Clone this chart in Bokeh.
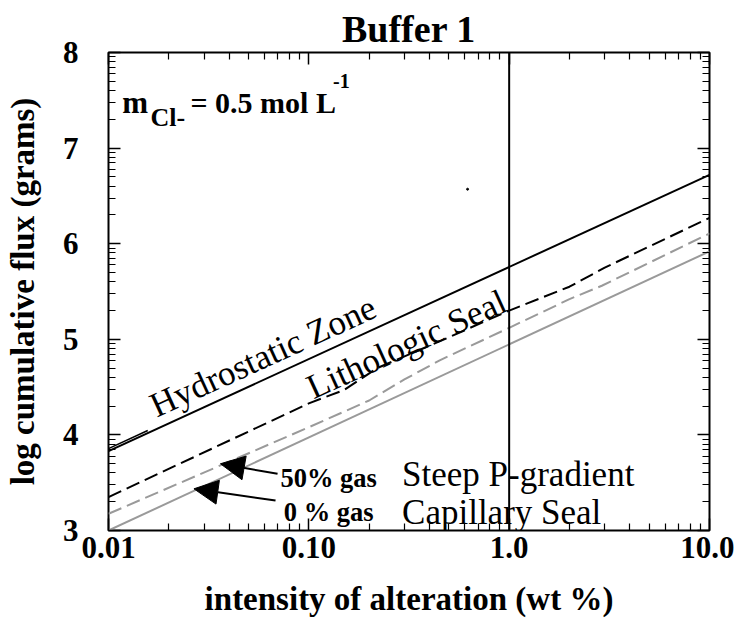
from bokeh.plotting import figure
from bokeh.models import (Range1d, FixedTicker, LogAxis, LinearAxis, Span, Label,
                          Arrow, NormalHead, Title)
from bokeh.embed import file_html
from bokeh.resources import INLINE
import math

# ---- data ----
alteration_ends = [0.01, 10.0]
hydrostatic_y = [3.83, 6.72]          # solid black
capillary_y = [3.0, 5.92]             # solid grey
hydro_double_x = [0.01, 0.0157]
hydro_double_y = [3.857, 4.046]

litho_x = [0.01, 0.1, 0.15, 0.22, 0.44, 1.0, 2.0, 3.0, 10.0]      # dashed black
litho_y = [3.35, 4.33, 4.47, 4.70, 4.97, 5.30, 5.55, 5.75, 6.27]

steep_x = [0.01, 0.1, 0.2, 0.3, 0.45, 1.0, 2.0, 2.9, 10.0]         # dashed grey
steep_y = [3.175, 4.08, 4.36, 4.58, 4.78, 5.12, 5.42, 5.56, 6.107]

speck_x = [0.62]
speck_y = [6.57]

x_major = [0.01, 0.1, 1, 10]
x_labels = {0.01: "0.01", 0.1: "0.10", 1: "1.0", 10: "10.0"}
x_minor = [k * 10.0 ** e for e in (-2, -1, 0) for k in range(2, 10)]
y_major = [3, 4, 5, 6, 7, 8]
y_minor = [n + math.log10(k) for n in range(3, 8) for k in range(2, 10)]

FONT = "Liberation Serif"
GREY = "#9a9a9a"

p = figure(width=734, height=630, x_axis_type="log",
           x_range=Range1d(0.01, 10), y_range=Range1d(3, 8),
           output_backend="svg", toolbar_location=None, title=None,
           min_border_left=108, min_border_right=25,
           min_border_top=52, min_border_bottom=100)
p.grid.visible = False
p.background_fill_color = "white"
p.border_fill_color = "white"
p.outline_line_color = "black"
p.outline_line_width = 2
p.outline_line_alpha = 1


def style_axis(ax, major, minor, labels=True):
    ax.ticker = FixedTicker(ticks=major, minor_ticks=minor)
    ax.axis_line_color = None
    ax.major_tick_in = 12
    ax.major_tick_out = 0
    ax.minor_tick_in = 7
    ax.minor_tick_out = 0
    ax.major_tick_line_color = "black"
    ax.minor_tick_line_color = "black"
    ax.major_tick_line_width = 1.5
    ax.minor_tick_line_width = 1.2
    if labels:
        ax.major_label_text_font = FONT
        ax.major_label_text_font_style = "bold"
        ax.major_label_text_font_size = "31px"
        ax.major_label_text_color = "black"
        ax.axis_label_text_font = FONT
        ax.axis_label_text_font_style = "bold"
        ax.axis_label_text_font_size = "33px"
        ax.axis_label_text_color = "black"
    else:
        ax.major_label_text_font_size = "2px"
        ax.major_label_text_alpha = 0
        ax.major_label_standoff = 0


xa = p.xaxis[0]
style_axis(xa, x_major, x_minor)
xa.major_label_overrides = x_labels
xa.major_label_standoff = 6
xa.axis_label = "intensity of alteration (wt %)"
xa.axis_label_standoff = 20

ya = p.yaxis[0]
style_axis(ya, y_major, y_minor)
ya.major_label_standoff = 30
ya.axis_label = "log cumulative flux (grams)"
ya.axis_label_standoff = 19

# top axis first so it sits against the frame, title above it
top = LogAxis()
style_axis(top, x_major, x_minor, labels=False)
p.add_layout(top, "above")
right = LinearAxis()
style_axis(right, y_major, y_minor, labels=False)
p.add_layout(right, "right")

title = Title(text="Buffer 1", align="center", text_font=FONT, text_font_size="38px",
              text_font_style="bold", text_color="black", standoff=6)
p.add_layout(title, "above")

# ---- curves ----
p.line(alteration_ends, hydrostatic_y, line_color="black", line_width=2)
p.line(hydro_double_x, hydro_double_y, line_color="black", line_width=1.5)
p.line(litho_x, litho_y, line_color="black", line_width=2, line_dash="14 6")
p.line(steep_x, steep_y, line_color=GREY, line_width=2, line_dash="14 6")
p.line(alteration_ends, capillary_y, line_color=GREY, line_width=2)
p.scatter(speck_x, speck_y, size=2, color="black")

p.add_layout(Span(location=1.0, dimension="height", line_color="black", line_width=2))

# ---- texts ----
def lab(x, y, text, size, bold=False, angle=0.0, align="left"):
    p.add_layout(Label(x=x, y=y, text=text, text_font=FONT, text_font_size=size,
                       text_font_style="bold" if bold else "normal", angle=angle,
                       text_align=align, text_baseline="alphabetic", text_color="black"))

lab(0.01171, 7.48, "m", "31px", bold=True)
lab(0.01621, 7.317, "Cl-", "26px", bold=True)
lab(0.02567, 7.48, "= 0.5 mol L", "30px", bold=True)
lab(0.132, 7.70, "-1", "20px", bold=True)

lab(0.0165, 4.29, "Hydrostatic Zone", "35px", angle=0.429)
lab(0.1, 4.48, "Lithologic Seal", "35px", angle=0.429)
lab(0.292, 3.586, "Steep P-gradient", "35px")
lab(0.292, 3.19, "Capillary Seal", "35px")
lab(0.0722, 3.544, "50% gas", "26.5px", bold=True)
lab(0.075, 3.191, "0 % gas", "26.5px", bold=True)

# arrows (tail -> tip)
arrow_tail_x = [0.0698, 0.0682]
arrow_tail_y = [3.593, 3.314]
arrow_tip_x = [0.0362, 0.0267]
arrow_tip_y = [3.698, 3.436]
for xs, ys, xe, ye in zip(arrow_tail_x, arrow_tail_y, arrow_tip_x, arrow_tip_y):
    p.add_layout(Arrow(end=NormalHead(size=24, fill_color="black", line_color="black"),
                       x_start=xs, y_start=ys, x_end=xe, y_end=ye,
                       line_color="black", line_width=2))

open("out.html", "w").write(file_html(p, INLINE))
